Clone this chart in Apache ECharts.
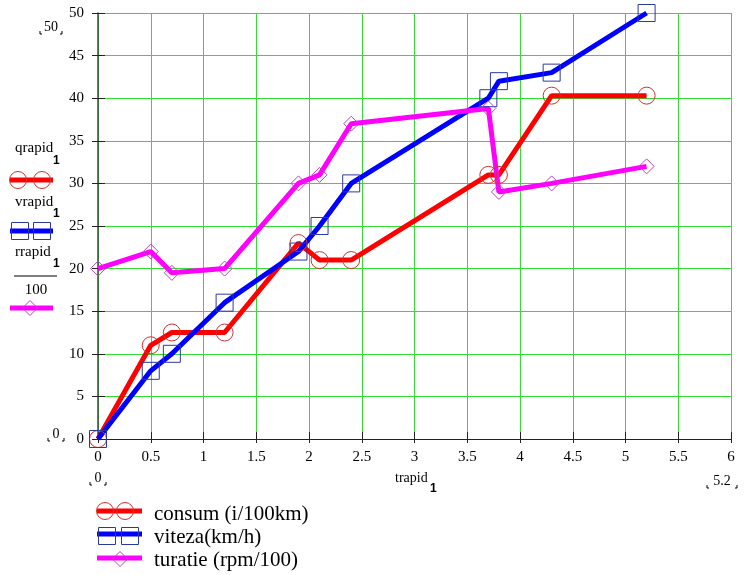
<!DOCTYPE html>
<html>
<head>
<meta charset="utf-8">
<script src="https://cdn.jsdelivr.net/npm/echarts@6/dist/echarts.min.js"></script>
<style>
  html, body { margin: 0; padding: 0; background: #fff; }
  #c { width: 746px; height: 575px; }
</style>
</head>
<body>
<div id="c"></div>
<script>
// Time samples (s) and the three measured quantities
const trapid  = [0, 0.5, 0.7, 1.2, 1.9, 2.1, 2.4, 3.7, 3.8, 4.3, 5.2];
const consum  = [0, 11, 12.5, 12.5, 23, 21, 21, 31, 31, 40.3, 40.3];
const viteza  = [0, 8, 10, 16, 22, 25, 30, 40, 42, 43, 50];
const turatie = [20, 22, 19.5, 20, 30, 31, 37, 38.8, 29, 30, 32];

const seriesNames = ['consum (i/100km)', 'viteza(km/h)', 'turatie (rpm/100)'];
const xRange = [0, 6, 0.5];
const yRange = [0, 50, 5];

const SERIF = '"Liberation Serif", "DejaVu Serif", serif';
const GREEN = '#33dd33';
const RED = '#ff0000', RED_MK = '#d03030';
const BLUE = '#0000ff', BLUE_MK = '#2a3aa0';
const MAG = '#ff00ff', MAG_MK = '#c040c0';

const pairs = ys => trapid.map((t, i) => [t, ys[i]]);

function lineSeries(name, ys, color, mkColor, symbol, size) {
  return {
    name, type: 'line', data: pairs(ys),
    xAxisIndex: 0, yAxisIndex: 0,
    symbol, symbolSize: size,
    showAllSymbol: true,
    lineStyle: { color, width: 5 },
    itemStyle: { color: 'rgba(0,0,0,0)', borderColor: mkColor, borderWidth: 1 },
    emphasis: { disabled: true },
    animation: false
  };
}

// Hand-drawn key items: thick line with hollow markers
function keyItem(x0, x1, y, color, mkColor, kind, centers, yMk) {
  const els = [{
    type: 'line', shape: { x1: x0, y1: y, x2: x1, y2: y },
    style: { stroke: color, lineWidth: 5 }, z: 10
  }];
  centers.forEach(cx => {
    const cy = yMk == null ? y : yMk;
    if (kind === 'circle') {
      els.push({ type: 'circle', shape: { cx, cy, r: 8.5 },
        style: { fill: null, stroke: mkColor, lineWidth: 1 }, z: 11 });
    } else if (kind === 'rect') {
      els.push({ type: 'rect', shape: { x: cx - 8.5, y: cy - 8.5, width: 17, height: 17 },
        style: { fill: null, stroke: mkColor, lineWidth: 1 }, z: 11 });
    } else {
      els.push({ type: 'polygon', shape: { points: [[cx, cy - 7.5], [cx + 7.5, cy], [cx, cy + 7.5], [cx - 7.5, cy]] },
        style: { fill: null, stroke: mkColor, lineWidth: 1 }, z: 11 });
    }
  });
  return els;
}

function txt(x, y, text, size, opts) {
  return {
    type: 'text', x, y,
    style: Object.assign({ text, font: size + 'px ' + SERIF, fill: '#000',
      textAlign: 'left', textVerticalAlign: 'middle' }, (opts || {}))
  };
}

// Range-limit label with small corner marks under each side
function limitLabel(cx, cy, text, halfW) {
  const b = cy + 7;
  return [
    txt(cx, cy, text, 14, { textAlign: 'center' }),
    { type: 'polyline', shape: { points: [[cx - halfW, b - 3], [cx - halfW, b], [cx - halfW + 2, b]] },
      style: { stroke: '#000', lineWidth: 1, fill: null } },
    { type: 'polyline', shape: { points: [[cx + halfW - 2, b], [cx + halfW, b], [cx + halfW, b - 3]] },
      style: { stroke: '#000', lineWidth: 1, fill: null } }
  ];
}

const graphics = [].concat(
  // left-hand variable key
  [txt(15, 148, 'qrapid', 15), txt(53, 161, '1', 10, { fontWeight: 'bold' })],
  keyItem(10, 53, 180, RED, RED_MK, 'circle', [18, 42]),
  [txt(15, 202, 'vrapid', 15), txt(53, 214, '1', 10, { fontWeight: 'bold' })],
  keyItem(10, 53, 231, BLUE, BLUE_MK, 'rect', [20, 42]),
  [txt(15, 252, 'rrapid', 15), txt(53, 264, '1', 10, { fontWeight: 'bold' }),
   { type: 'line', shape: { x1: 14, y1: 276, x2: 57, y2: 276 }, style: { stroke: '#000', lineWidth: 1 } },
   txt(36, 290, '100', 15, { textAlign: 'center' })],
  keyItem(10, 53, 308, MAG, MAG_MK, 'diamond', [30]),
  // bottom key
  keyItem(97, 142, 511, RED, RED_MK, 'circle', [105, 125]),
  [txt(154, 514, seriesNames[0], 21)],
  keyItem(97, 142, 534, BLUE, BLUE_MK, 'rect', [107, 130], 536),
  [txt(154, 537, seriesNames[1], 21)],
  keyItem(97, 142, 558, MAG, MAG_MK, 'diamond', [120], 559),
  [txt(154, 560, seriesNames[2], 21)],
  // axis variable name
  [txt(395, 478, 'trapid', 14), txt(430, 489, '1', 10, { fontWeight: 'bold' })],
  // range limits
  limitLabel(51, 27, String(yRange[1]), 11),
  limitLabel(56, 434, String(yRange[0]), 8),
  limitLabel(98, 478, String(xRange[0]), 8),
  limitLabel(722, 481, String(trapid[trapid.length - 1]), 15),
  // x axis line continues a little left of the y axis
  [{ type: 'line', shape: { x1: 92, y1: 439.5, x2: 98, y2: 439.5 }, style: { stroke: '#222', lineWidth: 1 } }]
);

const chart = echarts.init(document.getElementById('c'), null, { renderer: 'canvas' });
chart.setOption({
  animation: false,
  backgroundColor: '#fff',
  grid: { left: 98, right: 15, top: 13, bottom: 136, containLabel: false },
  xAxis: [{
    type: 'value', min: xRange[0], max: xRange[1], interval: xRange[2],
    axisLine: { show: true, onZero: false, lineStyle: { color: '#222', width: 1 } },
    axisTick: { show: true, inside: true, length: 7, lineStyle: { color: '#222' } },
    axisLabel: { fontFamily: SERIF, fontSize: 15, color: '#000', margin: 11 },
    splitLine: { show: true, lineStyle: { color: GREEN, width: 1 } }
  }, {
    type: 'value', position: 'bottom', min: xRange[0], max: xRange[1], interval: xRange[2],
    axisLine: { show: false }, axisLabel: { show: false }, splitLine: { show: false },
    axisTick: { show: true, inside: false, length: 4, lineStyle: { color: '#222' } }
  }],
  yAxis: [{
    type: 'value', min: yRange[0], max: yRange[1], interval: yRange[2],
    axisLine: { show: true, onZero: false, lineStyle: { color: '#444', width: 1.5 } },
    axisTick: { show: true, inside: false, length: 6, lineStyle: { color: '#222' } },
    axisLabel: { fontFamily: SERIF, fontSize: 15, color: '#000', margin: 14 },
    splitLine: { show: true, lineStyle: { color: GREEN, width: 1 } }
  }, {
    type: 'value', position: 'left', min: yRange[0], max: yRange[1], interval: yRange[2],
    axisLine: { show: false }, axisLabel: { show: false }, splitLine: { show: false },
    axisTick: { show: true, inside: true, length: 7, lineStyle: { color: '#222' } }
  }],
  series: [
    lineSeries(seriesNames[0], consum, RED, RED_MK, 'circle', 17),
    lineSeries(seriesNames[1], viteza, BLUE, BLUE_MK, 'rect', 17),
    lineSeries(seriesNames[2], turatie, MAG, MAG_MK, 'diamond', 15)
  ],
  graphic: { elements: graphics }
});
</script>
</body>
</html>
